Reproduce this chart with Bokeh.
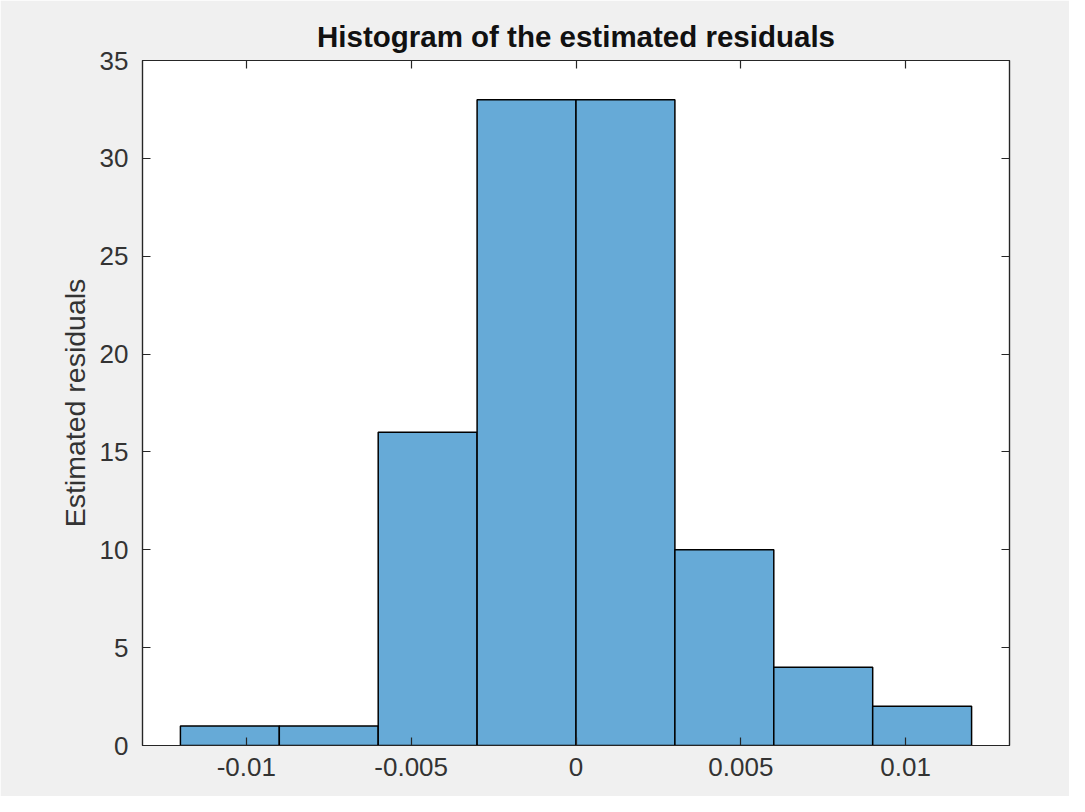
import re
from bokeh.plotting import figure
from bokeh.models import Range1d, LinearAxis, FixedTicker, CustomJSTickFormatter
from bokeh.embed import file_html
from bokeh.resources import INLINE

# ---- data ----
bin_edges = [-0.012, -0.009, -0.006, -0.003, 0.0, 0.003, 0.006, 0.009, 0.012]
counts = [1, 1, 16, 33, 33, 10, 4, 2]
x_ticks = [-0.01, -0.005, 0.0, 0.005, 0.01]
x_tick_labels = ["-0.01", "-0.005", "0", "0.005", "0.01"]
y_ticks = [0, 5, 10, 15, 20, 25, 30, 35]
title_text = "Histogram of the estimated residuals"
ylabel_text = "Estimated residuals"

FONT = "Liberation Sans"
AX = "#262626"
BG = "#f0f0f0"

p = figure(width=1069, height=796, output_backend="svg", toolbar_location=None,
           x_range=Range1d(-0.01315, 0.01315), y_range=Range1d(0, 35),
           min_border_left=142, min_border_right=60, min_border_top=60, min_border_bottom=51)
p.background_fill_color = "white"
p.border_fill_color = BG
p.outline_line_color = AX
p.outline_line_width = 1.2
p.xgrid.visible = False
p.ygrid.visible = False

p.quad(left=bin_edges[:-1], right=bin_edges[1:], bottom=[0] * len(counts), top=counts,
       fill_color="#66aad7", line_color="black", line_width=1.5)

p.title.text = title_text
p.title.align = "center"
p.title.text_font = FONT
p.title.text_font_size = "29.5px"
p.title.text_font_style = "bold"
p.title.text_color = "#111111"
p.title.standoff = 16

def style(ax):
    ax.axis_line_color = AX
    ax.axis_line_width = 1.2
    ax.major_tick_line_color = AX
    ax.major_tick_line_width = 1.2
    ax.major_tick_in = 8
    ax.major_tick_out = 0
    ax.minor_tick_line_color = None
    ax.major_label_text_font = FONT
    ax.major_label_text_font_size = "26px"
    ax.major_label_text_color = "#333333"
    ax.axis_label_text_font = FONT
    ax.axis_label_text_font_style = "normal"
    ax.axis_label_text_color = "#333333"
    ax.axis_label_text_font_size = "28.5px"

xa = p.xaxis[0]
xa.ticker = FixedTicker(ticks=x_ticks)
xa.major_label_overrides = dict(zip(x_ticks, x_tick_labels))
style(xa)
xa.major_label_standoff = 12

ya = p.yaxis[0]
ya.ticker = FixedTicker(ticks=y_ticks)
ya.axis_label = ylabel_text
style(ya)
ya.major_label_standoff = 14
ya.axis_label_standoff = 6

blank = CustomJSTickFormatter(code="return '';")

top = LinearAxis(ticker=FixedTicker(ticks=x_ticks), formatter=blank)
style(top)
top.major_label_standoff = 0
p.add_layout(top, "above")

right = LinearAxis(ticker=FixedTicker(ticks=y_ticks), formatter=blank)
style(right)
right.major_label_standoff = 0
p.add_layout(right, "right")

html = file_html(p, INLINE)
html = re.sub(r"<body([^>]*)>", r'<body\1 style="background-color:#f0f0f0;">', html, count=1)
open("out.html", "w").write(html)
